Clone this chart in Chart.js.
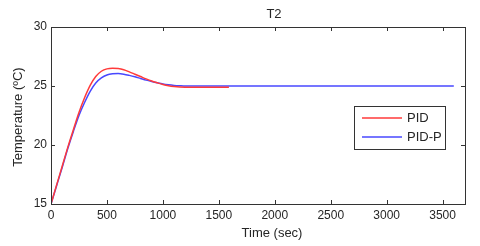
<!DOCTYPE html>
<html>
<head>
<meta charset="utf-8">
<script src="https://cdn.jsdelivr.net/npm/chart.js@4.4.0/dist/chart.umd.min.js"></script>
<style>
    html, body { margin: 0; padding: 0; background: #fff; }
    #wrap { width: 480px; height: 246px; }
</style>
</head>
<body>
<div id="wrap"><canvas id="chart" width="480" height="246"></canvas></div>
<script>
// === DATA ===
const chartTitle = 'T2';
const xLabel = 'Time (sec)';
const yLabel = 'Temperature (ºC)';
const xTicks = [0, 500, 1000, 1500, 2000, 2500, 3000, 3500];
const yTicks = [15, 20, 25, 30];

// PID (red) - time in seconds / temperature
const pidTime = [0, 50, 100, 150, 200, 250, 300, 350, 400, 450, 500, 550, 600, 650, 700, 750, 800, 850, 900, 950, 1000, 1050, 1100, 1150, 1200, 1400, 1590];
const pidTemp = [15, 16.6, 18.2, 19.8, 21.3, 22.75, 24.0, 25.05, 25.8, 26.25, 26.45, 26.5, 26.48, 26.38, 26.2, 26.0, 25.8, 25.6, 25.42, 25.27, 25.13, 25.02, 24.95, 24.91, 24.9, 24.9, 24.9];

// PID-P (blue)
const pidpTime = [0, 50, 100, 150, 200, 250, 300, 350, 400, 450, 500, 550, 600, 650, 700, 750, 800, 850, 900, 950, 1000, 1050, 1100, 1150, 1200, 1500, 2500, 3600];
const pidpTemp = [15, 16.55, 18.1, 19.7, 21.15, 22.5, 23.6, 24.55, 25.25, 25.68, 25.93, 26.03, 26.05, 26.0, 25.9, 25.78, 25.64, 25.5, 25.38, 25.27, 25.17, 25.1, 25.05, 25.02, 25.0, 25.0, 25.0, 25.0];

const seriesNames = ['PID', 'PID-P'];
const seriesColors = ['#ff3a3a', '#4848ff'];

// === HELPERS ===
function toPoints(xs, ys) {
    return xs.map((x, i) => ({ x: x, y: ys[i] }));
}

const FONT = '"Liberation Sans", Arial, sans-serif';
const TEXT = '#262626';

// box, inward ticks, legend, labels
const decorPlugin = {
    id: 'decor',
    afterDraw(chart) {
        const ctx = chart.ctx;
        const a = chart.chartArea;
        const xs = chart.scales.x;
        const ys = chart.scales.y;
        const tl = 4;

        ctx.save();
        ctx.strokeStyle = '#333';
        ctx.lineWidth = 1;
        ctx.strokeRect(Math.round(a.left) + 0.5, Math.round(a.top) + 0.5,
            Math.round(a.right - a.left), Math.round(a.bottom - a.top));

        ctx.beginPath();
        xTicks.forEach(v => {
            const px = Math.round(xs.getPixelForValue(v)) + 0.5;
            ctx.moveTo(px, a.bottom); ctx.lineTo(px, a.bottom - tl);
            ctx.moveTo(px, a.top); ctx.lineTo(px, a.top + tl);
        });
        yTicks.forEach(v => {
            const py = Math.round(ys.getPixelForValue(v)) + 0.5;
            ctx.moveTo(a.left, py); ctx.lineTo(a.left + tl, py);
            ctx.moveTo(a.right, py); ctx.lineTo(a.right - tl, py);
        });
        ctx.stroke();

        // title + axis labels
        ctx.fillStyle = TEXT;
        ctx.font = '13px ' + FONT;
        ctx.textAlign = 'center';
        ctx.textBaseline = 'middle';
        ctx.fillText(chartTitle, 274, 14);
        ctx.fillText(xLabel, 272, 233);

        ctx.translate(18, 117);
        ctx.rotate(-Math.PI / 2);
        ctx.fillText(yLabel, 0, 0);
        ctx.restore();

        // legend
        ctx.save();
        ctx.strokeStyle = '#333';
        ctx.lineWidth = 1;
        ctx.fillStyle = '#fff';
        ctx.fillRect(354.5, 106.5, 91, 43);
        ctx.strokeRect(354.5, 106.5, 91, 43);
        ctx.font = '13px ' + FONT;
        ctx.textAlign = 'left';
        ctx.textBaseline = 'middle';
        chart.data.datasets.forEach((ds, i) => {
            const y = 118 + i * 19;
            ctx.strokeStyle = ds.borderColor;
            ctx.lineWidth = 1.5;
            ctx.beginPath();
            ctx.moveTo(362, y);
            ctx.lineTo(402, y);
            ctx.stroke();
            ctx.fillStyle = TEXT;
            ctx.fillText(ds.label, 407, y + 0.5);
        });
        ctx.restore();
    }
};

// === CHART ===
const ctx = document.getElementById('chart').getContext('2d');
const chart = new Chart(ctx, {
    type: 'line',
    data: {
        datasets: [
            {
                label: seriesNames[0],
                data: toPoints(pidTime, pidTemp),
                borderColor: seriesColors[0],
                borderWidth: 1.5,
                pointRadius: 0,
                cubicInterpolationMode: 'monotone',
                fill: false
            },
            {
                label: seriesNames[1],
                data: toPoints(pidpTime, pidpTemp),
                borderColor: seriesColors[1],
                borderWidth: 1.5,
                pointRadius: 0,
                cubicInterpolationMode: 'monotone',
                fill: false
            }
        ]
    },
    options: {
        responsive: false,
        animation: false,
        devicePixelRatio: 1,
        layout: { padding: { left: 0, right: 15, top: 27, bottom: 0 } },
        plugins: {
            legend: { display: false },
            title: { display: false },
            tooltip: { enabled: false }
        },
        scales: {
            x: {
                type: 'linear',
                min: 0,
                max: 3700,
                afterBuildTicks: s => { s.ticks = xTicks.map(v => ({ value: v })); },
                afterFit: s => { s.height = 42; },
                grid: { display: false, drawTicks: false },
                border: { display: false },
                ticks: {
                    padding: 4,
                    color: TEXT,
                    maxRotation: 0,
                    font: { family: FONT, size: 12 },
                    callback: v => String(v)
                }
            },
            y: {
                type: 'linear',
                min: 15,
                max: 30,
                afterBuildTicks: s => { s.ticks = yTicks.map(v => ({ value: v })); },
                afterFit: s => { s.width = 51; },
                grid: { display: false, drawTicks: false },
                border: { display: false },
                ticks: {
                    padding: 4,
                    color: TEXT,
                    font: { family: FONT, size: 12 },
                    callback: v => String(v)
                }
            }
        }
    },
    plugins: [decorPlugin]
});
</script>
</body>
</html>
